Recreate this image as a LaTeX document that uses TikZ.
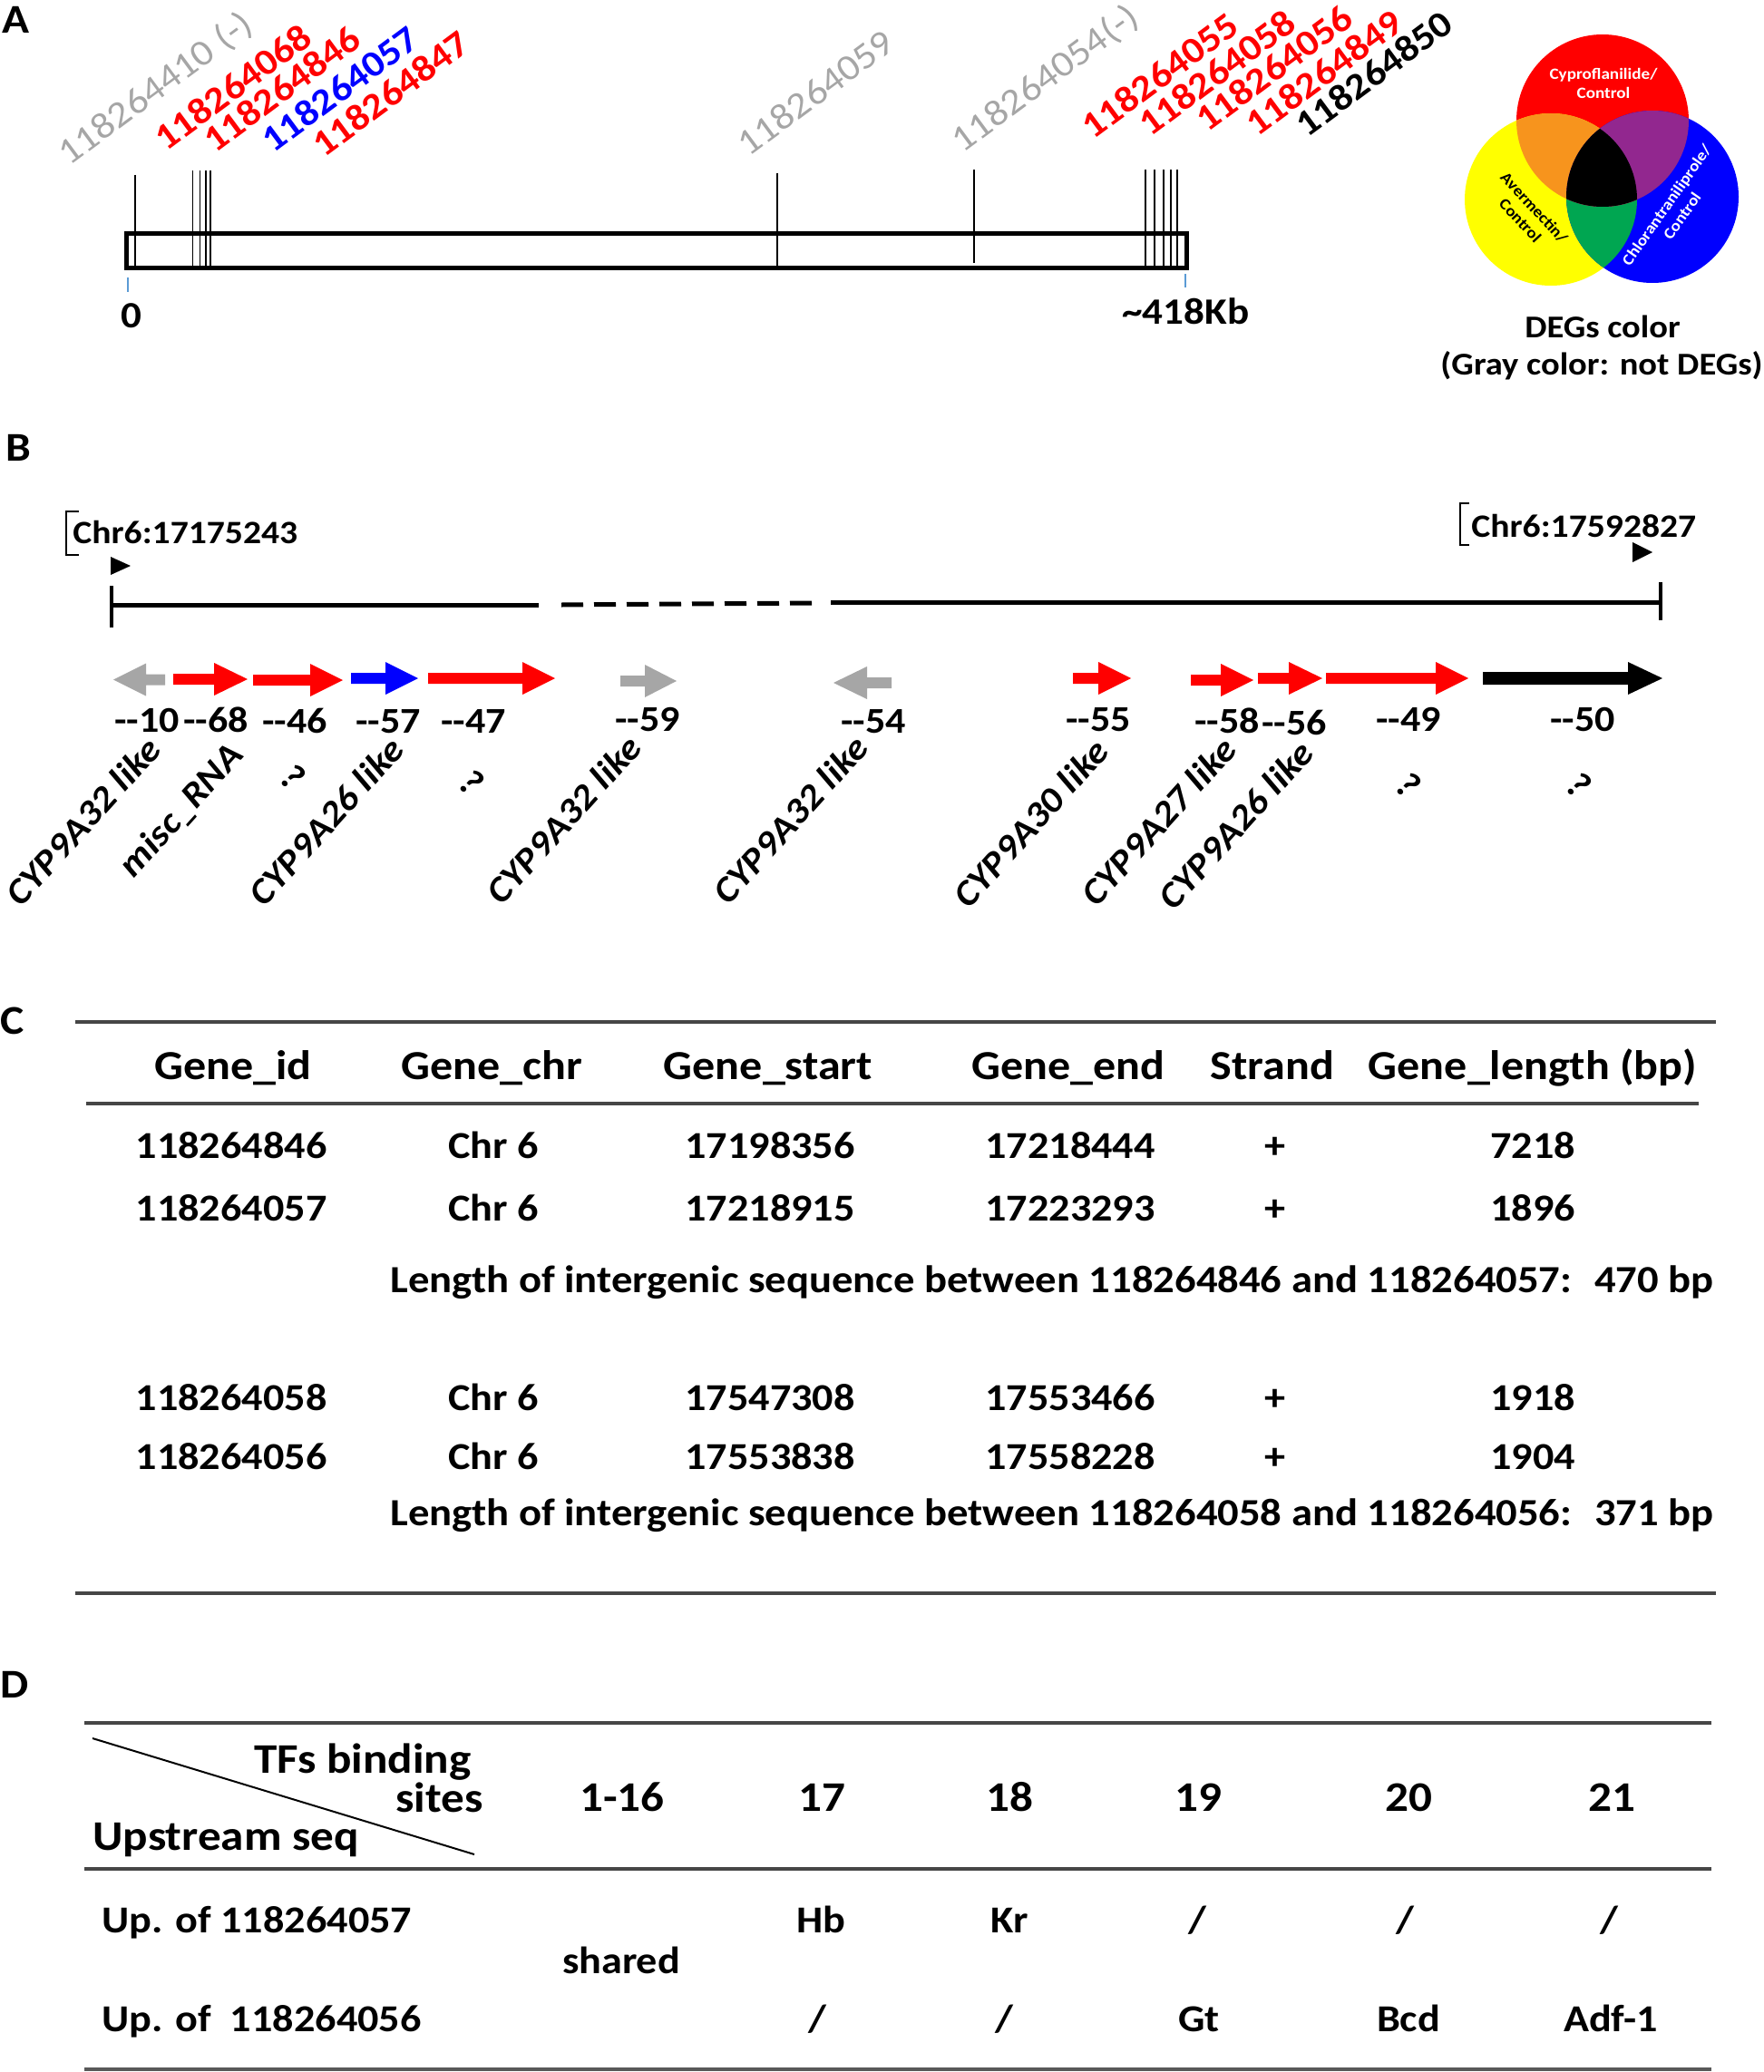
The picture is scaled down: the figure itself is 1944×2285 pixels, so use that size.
\documentclass[tikz,border=0pt]{standalone}
\usepackage{fontspec}
\setmainfont{Carlito}[FakeStretch=1.1]
\definecolor{rd}{RGB}{255,0,0}
\definecolor{bl}{RGB}{0,0,255}
\definecolor{gr}{RGB}{166,166,166}
\definecolor{rulec}{RGB}{70,70,70}
\definecolor{vor}{RGB}{247,148,29}
\definecolor{vpu}{RGB}{146,39,143}
\definecolor{vgr}{RGB}{0,166,81}
\definecolor{vye}{RGB}{255,255,0}
\definecolor{tickb}{RGB}{91,155,213}
\newcommand\myfs[1]{\fontsize{#1}{1.2\dimexpr#1pt\relax}\selectfont}
\newcommand\garrow[6]{% tail, base, tip, y, colour, shaft half width
  \fill[#5] (#1,#4-#6) -- (#2,#4-#6) -- (#2,#4-18) -- (#3,#4) -- (#2,#4+18) -- (#2,#4+#6) -- (#1,#4+#6) -- cycle;}
\begin{document}
\begin{tikzpicture}[x=0.5pt,y=-0.5pt,
  panel/.style={inner sep=0pt, anchor=base west, font=\bfseries\myfs{22.5}},
  albl/.style={inner sep=0pt, rotate=36.5, anchor=base west, font=\bfseries\myfs{20.3}},
  albg/.style={inner sep=0pt, rotate=36.5, anchor=base west, font=\myfs{20.3}, text=gr},
  tick/.style={line width=0.9pt},
  numlbl/.style={inner sep=0pt, anchor=base, font=\bfseries\myfs{20}},
  gname/.style={inner sep=0pt, rotate=48, anchor=base east, font=\bfseries\itshape\myfs{19.8}},
  qmark/.style={inner sep=0pt, rotate=-40, anchor=center, font=\bfseries\itshape\myfs{20.5}},
  chd/.style={inner sep=0pt, anchor=base, font=\bfseries\myfs{22.75}},
  cdat/.style={inner sep=0pt, anchor=base, font=\bfseries\myfs{21}},
  dhd/.style={inner sep=0pt, anchor=base, font=\bfseries\myfs{23.25}},
  trule/.style={draw=rulec, line width=1.75pt},
  venn/.style={inner sep=0pt, align=center, font=\bfseries\myfs{8.7}}]
\useasboundingbox (0,0) rectangle (1944,2285);

% ---------------- Panel A ----------------
\node[panel] (pA) at (2,37) {A};
\draw[line width=2.5pt] (139,258) rectangle (1308,295);
\draw[tick] (149,193) -- (149,295);
\draw[tick] (212.5,188) -- (212.5,293);
\draw[tick] (220.5,188) -- (220.5,293);
\draw[tick] (227,188) -- (227,293);
\draw[tick] (232,188) -- (232,293);
\draw[tick] (857,191) -- (857,293);
\draw[tick] (1074,187) -- (1074,290);
\draw[tick] (1263,187) -- (1263,293);
\draw[tick] (1273,187) -- (1273,293);
\draw[tick] (1283,187) -- (1283,293);
\draw[tick] (1291,187) -- (1291,293);
\draw[tick] (1298,187) -- (1298,293);
\draw[tickb, line width=0.6pt] (141,306) -- (141,322);
\draw[tickb, line width=0.6pt] (1307,302) -- (1307,317);
\node[inner sep=0pt, anchor=base, font=\bfseries\myfs{20.5}] (zero) at (145,361) {0};
\node[inner sep=0pt, anchor=base west, font=\bfseries\myfs{20.5}] (kb) at (1237,357) {\textasciitilde418Kb};

\node[albg] (g410) at (76,184) {118264410 (-)};
\node[albl, text=rd] (g068) at (183,168) {118264068};
\node[albl, text=rd] (g846) at (237,170) {118264846};
\node[albl, text=bl] (g057) at (301,170) {118264057};
\node[albl, text=rd] (g847) at (357,175) {118264847};
\node[albg] (g059) at (825,174) {118264059};
\node[albg] (g054) at (1061,170) {118264054(-)};
\node[albl, text=rd] (g055) at (1205,155) {118264055};
\node[albl, text=rd] (g058) at (1268,152) {118264058};
\node[albl, text=rd] (g056) at (1331,147) {118264056};
\node[albl, text=rd] (g849) at (1386,152) {118264849};
\node[albl, text=black] (g850) at (1441,153) {118264850};

% Venn
\fill[rd] (1767,133) circle[radius=95];
\fill[vye] (1710,220) circle[radius=95];
\fill[bl] (1822,217) circle[radius=95];
\begin{scope}
  \clip (1710,220) circle[radius=95];
  \fill[vgr] (1822,217) circle[radius=95];
\end{scope}
\begin{scope}
  \clip (1767,133) circle[radius=95];
  \fill[vor] (1710,220) circle[radius=95];
  \fill[vpu] (1822,217) circle[radius=95];
  \clip (1710,220) circle[radius=95];
  \fill[black] (1822,217) circle[radius=95];
\end{scope}
\node[venn, text=white] (vc) at (1768,92) {Cyproflanilide/\\Control};
\node[venn, text=black, rotate=-47] (va) at (1684,236) {Avermectin/\\Control};
\node[venn, text=white, rotate=55] (vb) at (1846,232) {Chlorantraniliprole/\\Control};
\node[inner sep=0pt, anchor=base, font=\bfseries\myfs{17.5}] (deg) at (1767,372) {DEGs color};
\node[inner sep=0pt, anchor=base, font=\bfseries\myfs{17.5}] (degg) at (1766,413) {(Gray color: not DEGs)};

% ---------------- Panel B ----------------
\node[panel] (pB) at (6,508) {B};
\draw[line width=1pt] (87,564) -- (73,564) -- (73,612) -- (87,612);
\node[inner sep=0pt, anchor=base west, font=\bfseries\myfs{18}] (chrL) at (80,599) {Chr6:17175243};
\fill (122,614) -- (144,624) -- (122,634) -- cycle;
\draw[line width=1pt] (1620,555) -- (1610,555) -- (1610,601) -- (1620,601);
\node[inner sep=0pt, anchor=base west, font=\bfseries\myfs{18}] (chrR) at (1622,592) {Chr6:17592827};
\fill (1800,598) -- (1822,609) -- (1800,620) -- cycle;

\draw[line width=2pt] (123,646) -- (123,692);
\draw[line width=2.5pt] (121,667) -- (594,667);
\draw[line width=2.5pt, dash pattern=on 12pt off 6pt] (619,667) -- (897,665);
\draw[line width=2.5pt] (916,664) -- (1832,664);
\draw[line width=2pt] (1831,642) -- (1831,684);

\garrow{182}{161}{125}{749.5}{gr}{6}
\garrow{191}{236}{273}{749}{rd}{6}
\garrow{279}{342}{378}{750}{rd}{6}
\garrow{387}{425}{461}{748}{bl}{6}
\garrow{472}{576}{612}{748}{rd}{6}
\garrow{684}{711}{746}{751}{gr}{6}
\garrow{983}{956}{919}{753}{gr}{6}
\garrow{1183}{1211}{1247}{748}{rd}{6}
\garrow{1313}{1346}{1382}{750}{rd}{6}
\garrow{1387}{1421}{1458}{748}{rd}{6}
\garrow{1462}{1583}{1619}{748}{rd}{6}
\garrow{1635}{1795}{1833}{748}{black}{7}

\node[numlbl] (n10) at (162,807) {-{}-10};
\node[numlbl] (n68) at (238,807) {-{}-68};
\node[numlbl] (n46) at (325,808) {-{}-46};
\node[numlbl] (n57) at (428,808) {-{}-57};
\node[numlbl] (n47) at (522,808) {-{}-47};
\node[numlbl] (n59) at (714,806) {-{}-59};
\node[numlbl] (n54) at (963,808) {-{}-54};
\node[numlbl] (n55) at (1211,806) {-{}-55};
\node[numlbl] (n58) at (1353,808) {-{}-58};
\node[numlbl] (n56) at (1427,810) {-{}-56};
\node[numlbl] (n49) at (1553,806) {-{}-49};
\node[numlbl] (n50) at (1745,806) {-{}-50};

\node[gname] (c10) at (180,828) {CYP9A32 like};
\node[gname] (c68) at (270,834) {misc\_RNA};
\node[qmark] (c46) at (322,856) {?};
\node[gname] (c57) at (448,828) {CYP9A26 like};
\node[qmark] (c47) at (519,862) {?};
\node[gname] (c59) at (710,826) {CYP9A32 like};
\node[gname] (c54) at (960,826) {CYP9A32 like};
\node[gname] (c55) at (1225,830) {CYP9A30 like};
\node[gname] (c58) at (1366,828) {CYP9A27 like};
\node[gname] (c56) at (1451,832) {CYP9A26 like};
\node[qmark] (c49) at (1552,865) {?};
\node[qmark] (c50) at (1740,865) {?};

% ---------------- Panel C ----------------
\node[panel] (pC) at (0,1140) {C};
\draw[trule] (83,1127) -- (1892,1127);
\draw[trule] (95,1217) -- (1873,1217);
\draw[trule] (83,1757) -- (1892,1757);
\node[chd] (h1) at (257,1190) {Gene\_id};
\node[chd] (h2) at (542,1190) {Gene\_chr};
\node[chd] (h3) at (847,1190) {Gene\_start};
\node[chd] (h4) at (1178,1190) {Gene\_end};
\node[chd] (h5) at (1403,1190) {Strand};
\node[chd] (h6) at (1690,1190) {Gene\_length (bp)};

\node[cdat] at (255,1277) {118264846};
\node[cdat] at (544,1277) {Chr 6};
\node[cdat] at (849,1277) {17198356};
\node[cdat] at (1180,1277) {17218444};
\node[cdat] at (1406,1277) {+};
\node[cdat] at (1690,1277) {7218};

\node[cdat] at (255,1346) {118264057};
\node[cdat] at (544,1346) {Chr 6};
\node[cdat] at (849,1346) {17218915};
\node[cdat] at (1180,1346) {17223293};
\node[cdat] at (1406,1346) {+};
\node[cdat] at (1690,1346) {1896};

\node[cdat, anchor=base west, font=\bfseries\myfs{21.2}] (len1) at (430,1425) {Length of intergenic sequence between 118264846 and 118264057:~ 470 bp};

\node[cdat] at (255,1555) {118264058};
\node[cdat] at (544,1555) {Chr 6};
\node[cdat] at (849,1555) {17547308};
\node[cdat] at (1180,1555) {17553466};
\node[cdat] at (1406,1555) {+};
\node[cdat] at (1690,1555) {1918};

\node[cdat] at (255,1620) {118264056};
\node[cdat] at (544,1620) {Chr 6};
\node[cdat] at (849,1620) {17553838};
\node[cdat] at (1180,1620) {17558228};
\node[cdat] at (1406,1620) {+};
\node[cdat] at (1690,1620) {1904};

\node[cdat, anchor=base west, font=\bfseries\myfs{21.2}] (len2) at (430,1682) {Length of intergenic sequence between 118264058 and 118264056:~ 371 bp};

% ---------------- Panel D ----------------
\node[panel] (pD) at (0,1872) {D};
\draw[trule] (93,1900) -- (1887,1900);
\draw[trule] (93,2061) -- (1887,2061);
\draw[trule, draw=gray!70!black] (93,2282) -- (1887,2282);
\coordinate (dg1) at (102,1917);
\coordinate (dg2) at (523,2045);
\draw[line width=1pt] (dg1) -- (dg2);
\node[dhd, anchor=base east] (tfs) at (520,1955) {TFs binding};
\node[dhd, anchor=base east] (sites) at (533,1998) {sites};
\node[dhd, anchor=base west] (ups) at (102,2040) {Upstream seq};
\node[dhd] at (686,1997) {1-16};
\node[dhd] at (906,1997) {17};
\node[dhd] at (1113,1997) {18};
\node[dhd] at (1321,1997) {19};
\node[dhd] at (1553,1997) {20};
\node[dhd] at (1777,1997) {21};

\node[cdat, anchor=base west] at (112,2131) {Up. of 118264057};
\node[cdat] at (905,2131) {Hb};
\node[cdat] at (1113,2131) {Kr};
\node[cdat] at (1320,2131) {/};
\node[cdat] at (1549,2131) {/};
\node[cdat] at (1774,2131) {/};
\node[cdat] at (685,2176) {shared};
\node[cdat, anchor=base west] at (112,2240) {Up. of~ 118264056};
\node[cdat] at (901,2240) {/};
\node[cdat] at (1107,2240) {/};
\node[cdat] at (1322,2240) {Gt};
\node[cdat] at (1553,2240) {Bcd};
\node[cdat] at (1776,2240) {Adf-1};
\end{tikzpicture}
\end{document}
